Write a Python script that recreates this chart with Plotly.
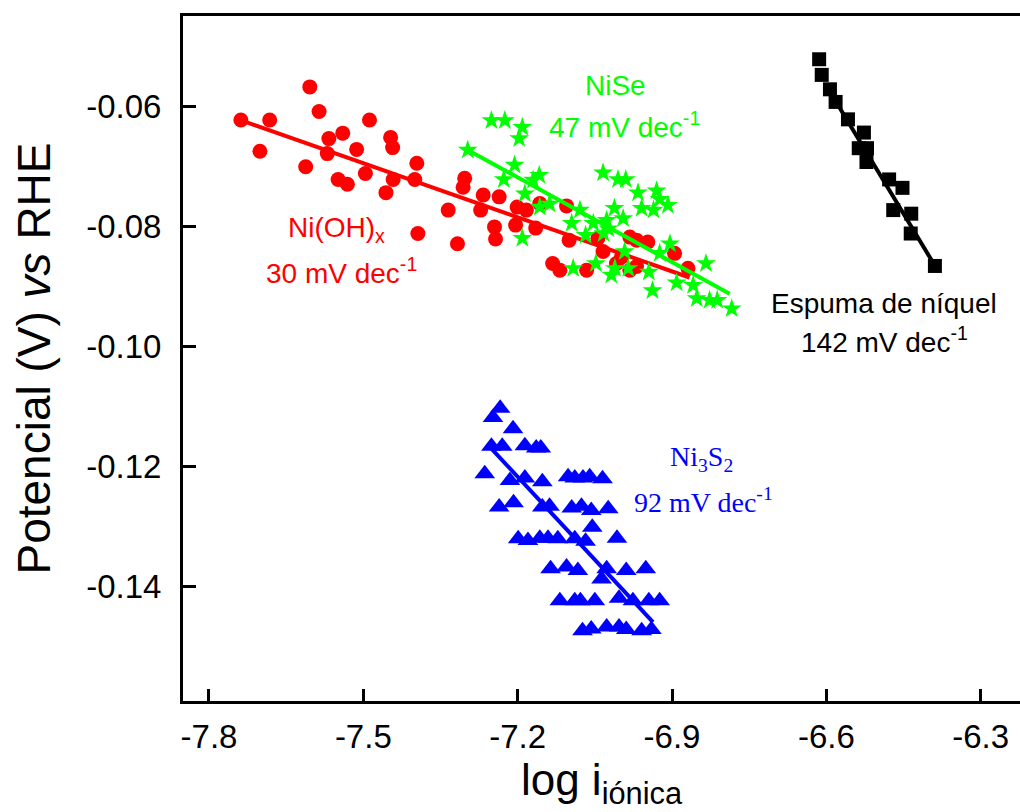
import numpy as np
import plotly.graph_objects as go

# --- Espuma de níquel (black squares) ---
foam_x = [-6.614, -6.609, -6.593, -6.582, -6.558, -6.527, -6.537, -6.521, -6.522,
          -6.478, -6.452, -6.470, -6.435, -6.436, -6.389]
foam_y = [-0.0522, -0.0548, -0.0572, -0.0593, -0.0622, -0.0644, -0.0670, -0.0670, -0.0693,
          -0.0722, -0.0736, -0.0773, -0.0779, -0.0812, -0.0866]

# --- Ni(OH)x (red circles) ---
nioh_x = [-7.738, -7.682, -7.701, -7.604, -7.586, -7.612, -7.567, -7.540, -7.570, -7.513,
          -7.549, -7.531, -7.496, -7.488, -7.447, -7.443, -7.442, -7.456, -7.396, -7.400,
          -7.394, -7.303, -7.306, -7.335, -7.317, -7.267, -7.272, -7.236, -7.245, -7.243,
          -7.201, -7.183, -7.204, -7.165, -7.157, -7.132, -7.118, -7.105, -7.100, -7.066,
          -7.044, -7.034, -7.008, -6.982, -6.969, -6.947, -6.982, -6.969, -6.895, -6.869,
          -6.998]
nioh_y = [-0.0623, -0.0623, -0.0675, -0.0568, -0.0609, -0.0701, -0.0654, -0.0645, -0.0679, -0.0672,
          -0.0722, -0.0730, -0.0712, -0.0623, -0.0652, -0.0669, -0.0722, -0.0744, -0.0695, -0.0722,
          -0.0812, -0.0720, -0.0735, -0.0773, -0.0829, -0.0748, -0.0773, -0.0751, -0.0801, -0.0821,
          -0.0768, -0.0773, -0.0798, -0.0803, -0.0762, -0.0862, -0.0873, -0.0766, -0.0823, -0.0873,
          -0.0820, -0.0842, -0.0862, -0.0818, -0.0823, -0.0826, -0.0873, -0.0867, -0.0845, -0.0870,
          -0.0851]

# --- NiSe (green stars) ---
nise_x = [-7.251, -7.225, -7.191, -7.197, -7.297, -7.206, -7.227, -7.158, -7.170, -7.186,
          -7.034, -7.005, -6.990, -6.966, -6.930, -6.924, -6.908, -6.959, -6.936, -7.157,
          -7.138, -7.079, -7.012, -7.191, -7.095, -7.053, -7.027, -6.995, -7.068, -7.033,
          -7.024, -7.092, -7.048, -7.018, -7.011, -6.985, -6.992, -6.924, -6.904, -6.945,
          -6.938, -6.891, -6.859, -6.834, -6.852, -6.827, -6.812, -6.784]
nise_y = [-0.0624, -0.0624, -0.0635, -0.0654, -0.0673, -0.0698, -0.0722, -0.0715, -0.0723, -0.0746,
          -0.0711, -0.0722, -0.0722, -0.0744, -0.0741, -0.0755, -0.0765, -0.0770, -0.0773, -0.0768,
          -0.0763, -0.0773, -0.0770, -0.0820, -0.0795, -0.0795, -0.0790, -0.0787, -0.0815, -0.0812,
          -0.0804, -0.0870, -0.0862, -0.0881, -0.0870, -0.0870, -0.0842, -0.0845, -0.0829, -0.0876,
          -0.0907, -0.0894, -0.0898, -0.0862, -0.0920, -0.0923, -0.0923, -0.0937]

# --- Ni3S2 (blue triangles) ---
ni3s2_x = [-7.234, -7.248, -7.209, -7.251, -7.230, -7.186, -7.164, -7.155, -7.264, -7.215,
           -7.186, -7.152, -7.102, -7.089, -7.073, -7.060, -7.035, -7.236, -7.208, -7.152,
           -7.138, -7.095, -7.076, -7.057, -7.024, -7.055, -7.199, -7.180, -7.157, -7.141,
           -7.122, -7.089, -7.068, -7.007, -7.136, -7.105, -7.083, -7.027, -7.037, -6.989,
           -6.951, -7.118, -7.089, -7.078, -7.050, -7.003, -6.976, -6.945, -6.924, -7.074,
           -7.057, -7.027, -7.003, -6.989, -6.959, -6.940]
ni3s2_y = [-0.1103, -0.1118, -0.1137, -0.1166, -0.1166, -0.1165, -0.1169, -0.1169, -0.1212, -0.1223,
           -0.1219, -0.1225, -0.1217, -0.1219, -0.1219, -0.1217, -0.1220, -0.1267, -0.1260, -0.1267,
           -0.1266, -0.1269, -0.1266, -0.1273, -0.1270, -0.1301, -0.1320, -0.1323, -0.1319, -0.1319,
           -0.1320, -0.1320, -0.1324, -0.1319, -0.1370, -0.1367, -0.1373, -0.1370, -0.1387, -0.1373,
           -0.1370, -0.1423, -0.1423, -0.1423, -0.1423, -0.1419, -0.1423, -0.1423, -0.1423, -0.1473,
           -0.1470, -0.1467, -0.1467, -0.1471, -0.1473, -0.1471]

# Tafel fits: slope (mV/dec), x extent and starting potential of each line
fit_names = ["foam", "nioh", "nise", "ni3s2"]
fit_slope_mv = [142, 30, 47, 92]
fit_x_start = [-6.600, -7.750, -7.297, -7.251]
fit_x_end = [-6.389, -6.866, -6.788, -6.937]
fit_y_start = [-0.0566, -0.0620, -0.0673, -0.1170]

x_ticks = [-7.8, -7.5, -7.2, -6.9, -6.6, -6.3]
y_ticks = [-0.14, -0.12, -0.10, -0.08, -0.06]

RED, GREEN, BLUE, BLACK = "#ff0000", "#00ff00", "#0000ff", "#000000"
SANS = "Arial, Liberation Sans, sans-serif"
SERIF = "Times New Roman, Liberation Serif, serif"


def fit_line(i):
    xs = np.array([fit_x_start[i], fit_x_end[i]])
    ys = fit_y_start[i] - fit_slope_mv[i] / 1000.0 * (xs - fit_x_start[i])
    return xs, ys


fig = go.Figure()

# black foam
fig.add_trace(go.Scatter(x=foam_x, y=foam_y, mode="markers",
                         marker=dict(symbol="square", size=14, color=BLACK)))
xs, ys = fit_line(0)
fig.add_trace(go.Scatter(x=xs, y=ys, mode="lines", line=dict(color=BLACK, width=4)))

# red Ni(OH)x
fig.add_trace(go.Scatter(x=nioh_x, y=nioh_y, mode="markers",
                         marker=dict(symbol="circle", size=15, color=RED)))
xs, ys = fit_line(1)
fig.add_trace(go.Scatter(x=xs, y=ys, mode="lines", line=dict(color=RED, width=4)))

# blue Ni3S2
fig.add_trace(go.Scatter(x=ni3s2_x, y=ni3s2_y, mode="markers",
                         marker=dict(symbol="triangle-up", size=18, color=BLUE)))
xs, ys = fit_line(3)
fig.add_trace(go.Scatter(x=xs, y=ys, mode="lines", line=dict(color=BLUE, width=4)))

# green NiSe
fig.add_trace(go.Scatter(x=nise_x, y=nise_y, mode="markers",
                         marker=dict(symbol="star", size=15, color=GREEN)))
xs, ys = fit_line(2)
fig.add_trace(go.Scatter(x=xs, y=ys, mode="lines", line=dict(color=GREEN, width=4)))

labels = [
    ("NiSe", -7.010, -0.0565, GREEN, SANS),
    ("47 mV dec<sup>-1</sup>", -6.992, -0.0632, GREEN, SANS),
    ("Ni(OH)<sub>x</sub>", -7.552, -0.0806, RED, SANS),
    ("30 mV dec<sup>-1</sup>", -7.542, -0.0874, RED, SANS),
    ("Espuma de níquel", -6.488, -0.0928, BLACK, SANS),
    ("142 mV dec<sup>-1</sup>", -6.487, -0.0989, BLACK, SANS),
    ("Ni<sub>3</sub>S<sub>2</sub>", -6.843, -0.1186, BLUE, SERIF),
    ("92 mV dec<sup>-1</sup>", -6.838, -0.1256, BLUE, SERIF),
]
for text, ax, ay, col, fam in labels:
    fig.add_annotation(x=ax, y=ay, text=text, showarrow=False,
                       font=dict(family=fam, size=28, color=col),
                       xanchor="center", yanchor="middle")

fig.update_layout(
    width=1020, height=812,
    margin=dict(l=183, r=0, t=16, b=111),
    paper_bgcolor="white", plot_bgcolor="white",
    showlegend=False,
    font=dict(family=SANS, color="black"),
)
fig.update_xaxes(
    range=[-7.8505, -6.2236], tickvals=x_ticks,
    ticktext=[f"{v:.1f}" for v in x_ticks],
    ticks="inside", ticklen=12, tickwidth=3, tickcolor="black",
    showline=True, linewidth=3, linecolor="black", mirror=True,
    showgrid=False, zeroline=False,
    tickfont=dict(size=33, family=SANS),
    ticklabelstandoff=4,
    title=dict(text="log i<sub>iónica</sub>", font=dict(size=44, family=SANS), standoff=8),
)
fig.update_yaxes(
    range=[-0.1590, -0.0450], tickvals=y_ticks,
    ticktext=[f"{v:.2f}" for v in y_ticks],
    ticks="inside", ticklen=13, tickwidth=3, tickcolor="black",
    showline=True, linewidth=3, linecolor="black", mirror=False,
    showgrid=False, zeroline=False,
    tickfont=dict(size=33, family=SANS),
    ticklabelstandoff=12,
    title=dict(text="Potencial (V) <i>vs</i> RHE", font=dict(size=46, family=SANS), standoff=22),
)

fig.write_html("out.html")
